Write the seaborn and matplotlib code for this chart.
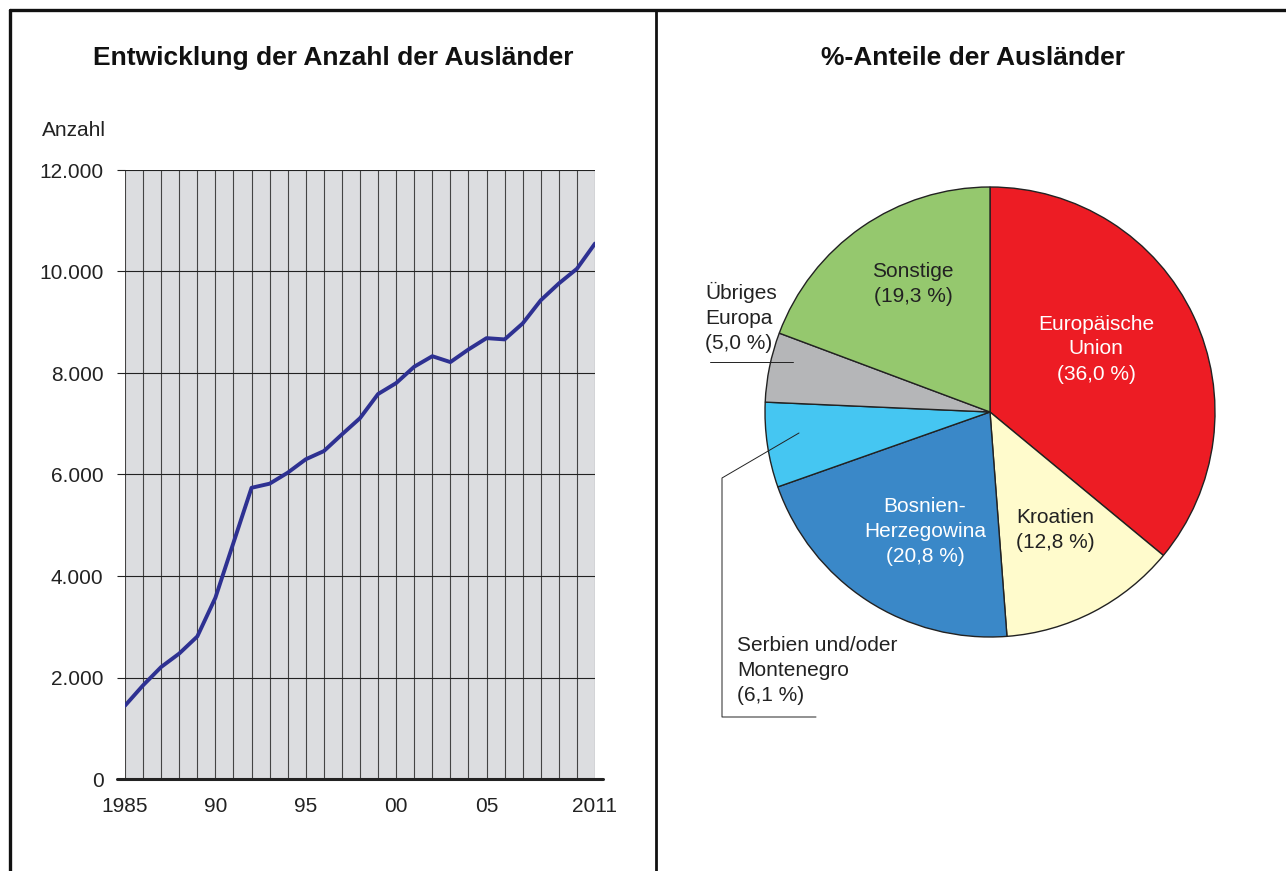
import matplotlib
matplotlib.use("Agg")
import matplotlib.pyplot as plt
import seaborn as sns
import pandas as pd
from matplotlib.lines import Line2D

# data
years = list(range(1985, 2012))
counts = [1445, 1846, 2207, 2472, 2809, 3571, 4655, 5738, 5819, 6035,
          6300, 6461, 6790, 7110, 7586, 7801, 8124, 8331, 8215, 8464,
          8687, 8662, 8977, 9433, 9764, 10054, 10551]
xtick_pos = [1985, 1990, 1995, 2000, 2005, 2011]
xtick_labels = ["1985", "90", "95", "00", "05", "2011"]
ytick_pos = [0, 2000, 4000, 6000, 8000, 10000, 12000]
ytick_labels = ["0", "2.000", "4.000", "6.000", "8.000", "10.000", "12.000"]

groups = ["Europäische Union", "Kroatien", "Bosnien-Herzegowina",
          "Serbien und/oder Montenegro", "Übriges Europa", "Sonstige"]
shares = [36.0, 12.8, 20.8, 6.1, 5.0, 19.3]
pie_colors = ["#ed1c24", "#fffbcc", "#3a88c8", "#45c6f2", "#b5b6b8", "#95c86e"]

W, H = 1286, 871

sns.set_theme(style="white")
plt.rcParams["font.family"] = ["Liberation Sans", "DejaVu Sans"]


def fx(x):
    return x / W


def fy(y):
    return 1 - y / H


fig = plt.figure(figsize=(W / 100, H / 100), dpi=100)

# frame lines
fig.add_artist(Line2D([fx(10), 1], [fy(10), fy(10)], color="#111111", lw=2.4))
fig.add_artist(Line2D([fx(10), fx(10)], [fy(10), 0], color="#111111", lw=2.4))
fig.add_artist(Line2D([fx(656), fx(656)], [fy(10), 0], color="#111111", lw=2.0))

# ---- line chart ----
ax = fig.add_axes([fx(125), fy(779), fx(595) - fx(125), fy(170) - fy(779)])
df = pd.DataFrame({"Jahr": years, "Anzahl": counts})
sns.lineplot(data=df, x="Jahr", y="Anzahl", ax=ax, color="#2e3192", lw=2.8, zorder=5)
ax.set_facecolor("#dcdde0")
ax.set_xlim(1985, 2011)
ax.set_ylim(0, 12000)
ax.set_xticks(xtick_pos)
ax.set_xticklabels(xtick_labels)
ax.set_xticks(years, minor=True)
ax.set_yticks(ytick_pos)
ax.set_yticklabels(ytick_labels)
ax.grid(which="both", axis="x", color="#444444", lw=0.8)
ax.grid(which="major", axis="y", color="#222222", lw=0.8)
ax.set_axisbelow(True)
for s in ["top", "right", "left", "bottom"]:
    ax.spines[s].set_visible(False)
ax.tick_params(axis="y", which="major", direction="out", length=5.5, width=0.8,
               color="#222222", pad=10, labelsize=15, labelcolor="#222222", left=True)
ax.tick_params(axis="x", which="both", length=0, pad=13, labelsize=15, labelcolor="#222222")
ax.set_xlabel("")
ax.set_ylabel("")
ax.plot([-0.016, 1.017], [0, 0], transform=ax.transAxes, color="#222222",
        lw=2.2, clip_on=False, zorder=6)

fig.text(fx(42), fy(131), "Anzahl", fontsize=15, color="#222222", va="center", ha="left")
fig.text(fx(333), fy(58), "Entwicklung der Anzahl der Ausländer", fontsize=19,
         fontweight="bold", ha="center", va="center", color="#111111")

# ---- pie chart ----
R = 225
cx, cy = 990, 412
pax = fig.add_axes([fx(cx - R), fy(cy + R), 2 * R / W, 2 * R / H])
pax.pie(shares, colors=pie_colors, startangle=90, counterclock=False,
        wedgeprops=dict(edgecolor="#222222", linewidth=1.0))
pax.set_xlim(-1, 1)
pax.set_ylim(-1, 1)
pax.set_aspect("equal")
pax.axis("off")

fig.text(fx(973), fy(58), "%-Anteile der Ausländer", fontsize=19,
         fontweight="bold", ha="center", va="center", color="#111111")

lab = dict(fontsize=15, ha="center", va="center", linespacing=1.4)
fig.text(fx(1096), fy(349), "Europäische\nUnion\n(36,0 %)", color="white", **lab)
fig.text(fx(1055), fy(530), "Kroatien\n(12,8 %)", color="#222222", **lab)
fig.text(fx(925), fy(531), "Bosnien-\nHerzegowina\n(20,8 %)", color="white", **lab)
fig.text(fx(913), fy(284), "Sonstige\n(19,3 %)", color="#222222", **lab)
fig.text(fx(705), fy(317), "Übriges\nEuropa\n(5,0 %)", color="#222222", fontsize=15,
         ha="left", va="center", linespacing=1.4)
fig.text(fx(737), fy(670), "Serbien und/oder\nMontenegro\n(6,1 %)", color="#222222",
         fontsize=15, ha="left", va="center", linespacing=1.4)

# leader lines
fig.add_artist(Line2D([fx(710), fx(793)], [fy(362), fy(362)], color="#222222", lw=0.7))
fig.add_artist(Line2D([fx(799), fx(722), fx(722), fx(816)],
                      [fy(433), fy(478), fy(717), fy(717)], color="#222222", lw=0.7))

fig.savefig("out.png", dpi=100)
